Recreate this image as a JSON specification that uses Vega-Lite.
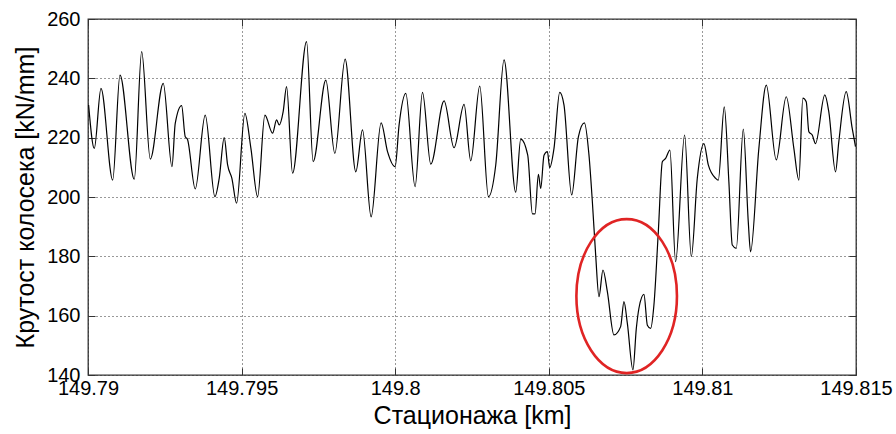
{
  "$schema": "https://vega.github.io/schema/vega-lite/v6.json",
  "width": 768,
  "height": 356,
  "autosize": {"type": "none"},
  "padding": {"left": 88, "top": 19, "right": 40, "bottom": 59},
  "background": "white",
  "config": {
    "font": "Liberation Sans",
    "view": {"stroke": "#333333", "strokeWidth": 1.3},
    "axis": {
      "labelFont": "Liberation Sans",
      "titleFont": "Liberation Sans",
      "labelColor": "#000000",
      "titleColor": "#000000",
      "titleFontWeight": "normal",
      "domain": false,
      "tickColor": "#333333",
      "tickSize": -7,
      "tickWidth": 1
    }
  },
  "datasets": {
    "series": [
      {"s": 149.79002, "k": 231},
      {"s": 149.790205, "k": 216.4},
      {"s": 149.790423, "k": 236.6},
      {"s": 149.790804, "k": 205.7},
      {"s": 149.791041, "k": 241.1},
      {"s": 149.791506, "k": 206},
      {"s": 149.791747, "k": 249},
      {"s": 149.792027, "k": 212.8},
      {"s": 149.79245, "k": 238.3},
      {"s": 149.792733, "k": 210.2},
      {"s": 149.79284, "k": 224.8},
      {"s": 149.793048, "k": 230.8},
      {"s": 149.793165, "k": 220.3},
      {"s": 149.793237, "k": 219.5},
      {"s": 149.793491, "k": 202.7},
      {"s": 149.793816, "k": 227.6},
      {"s": 149.794131, "k": 200.1},
      {"s": 149.794271, "k": 206.3},
      {"s": 149.794434, "k": 220},
      {"s": 149.794545, "k": 210.8},
      {"s": 149.794684, "k": 206.3},
      {"s": 149.794837, "k": 197.9},
      {"s": 149.795107, "k": 228.2},
      {"s": 149.795303, "k": 216.4},
      {"s": 149.795521, "k": 200.1},
      {"s": 149.795758, "k": 227.6},
      {"s": 149.796008, "k": 221.5},
      {"s": 149.796139, "k": 226},
      {"s": 149.796223, "k": 224.3},
      {"s": 149.796353, "k": 228.8},
      {"s": 149.796464, "k": 237.2},
      {"s": 149.796659, "k": 208},
      {"s": 149.797115, "k": 252.4},
      {"s": 149.797329, "k": 211.9},
      {"s": 149.797742, "k": 239.4},
      {"s": 149.798035, "k": 214.7},
      {"s": 149.79837, "k": 246.5},
      {"s": 149.798718, "k": 208.5},
      {"s": 149.798936, "k": 222.6},
      {"s": 149.799216, "k": 193.3},
      {"s": 149.799541, "k": 225},
      {"s": 149.79975, "k": 215.3},
      {"s": 149.799997, "k": 210.2},
      {"s": 149.800127, "k": 224.3},
      {"s": 149.800345, "k": 234.9},
      {"s": 149.800647, "k": 203.5},
      {"s": 149.800888, "k": 235.3},
      {"s": 149.801158, "k": 211.1},
      {"s": 149.801591, "k": 232.4},
      {"s": 149.801916, "k": 216.6},
      {"s": 149.802242, "k": 231.2},
      {"s": 149.802459, "k": 212.2},
      {"s": 149.802752, "k": 237.4},
      {"s": 149.803035, "k": 200.1},
      {"s": 149.803273, "k": 210.8},
      {"s": 149.803543, "k": 246.2},
      {"s": 149.803923, "k": 201.6},
      {"s": 149.804086, "k": 219.5},
      {"s": 149.804314, "k": 214.1},
      {"s": 149.804467, "k": 194.3},
      {"s": 149.804551, "k": 194.3},
      {"s": 149.804662, "k": 207.6},
      {"s": 149.804737, "k": 202.9},
      {"s": 149.804844, "k": 214.1},
      {"s": 149.804955, "k": 215.3},
      {"s": 149.805029, "k": 209.9},
      {"s": 149.805169, "k": 216.4},
      {"s": 149.805355, "k": 235.3},
      {"s": 149.805495, "k": 231},
      {"s": 149.805745, "k": 200.7},
      {"s": 149.805963, "k": 220.3},
      {"s": 149.806158, "k": 225},
      {"s": 149.806308, "k": 214.1},
      {"s": 149.806418, "k": 198.4},
      {"s": 149.806526, "k": 180.4},
      {"s": 149.806633, "k": 166.4},
      {"s": 149.806763, "k": 175.4},
      {"s": 149.806906, "k": 168.1},
      {"s": 149.807121, "k": 153.5},
      {"s": 149.807339, "k": 156.3},
      {"s": 149.807446, "k": 164.7},
      {"s": 149.807557, "k": 157.4},
      {"s": 149.807739, "k": 141.7},
      {"s": 149.807849, "k": 155.7},
      {"s": 149.807934, "k": 162.5},
      {"s": 149.808097, "k": 167.2},
      {"s": 149.808208, "k": 156.8},
      {"s": 149.808315, "k": 155.7},
      {"s": 149.808422, "k": 163.6},
      {"s": 149.808565, "k": 188.3},
      {"s": 149.808696, "k": 211.9},
      {"s": 149.808803, "k": 213},
      {"s": 149.808943, "k": 215.8},
      {"s": 149.809128, "k": 178.2},
      {"s": 149.809421, "k": 220.9},
      {"s": 149.809639, "k": 179.9},
      {"s": 149.809834, "k": 206.3},
      {"s": 149.810049, "k": 218},
      {"s": 149.810192, "k": 210.8},
      {"s": 149.81043, "k": 206.3},
      {"s": 149.810517, "k": 205.7},
      {"s": 149.810712, "k": 230.4},
      {"s": 149.810862, "k": 205.1},
      {"s": 149.810973, "k": 183.8},
      {"s": 149.811103, "k": 182.7},
      {"s": 149.811331, "k": 222.9},
      {"s": 149.811493, "k": 191.7},
      {"s": 149.811568, "k": 181.5},
      {"s": 149.811838, "k": 216.4},
      {"s": 149.812079, "k": 237.7},
      {"s": 149.812404, "k": 212.5},
      {"s": 149.812729, "k": 233.8},
      {"s": 149.812977, "k": 216.4},
      {"s": 149.813139, "k": 205.7},
      {"s": 149.81327, "k": 233.3},
      {"s": 149.81338, "k": 232.1},
      {"s": 149.813465, "k": 222},
      {"s": 149.813575, "k": 220.9},
      {"s": 149.813682, "k": 218},
      {"s": 149.813985, "k": 234.4},
      {"s": 149.814115, "k": 228.7},
      {"s": 149.814333, "k": 208.5},
      {"s": 149.81444, "k": 218.6},
      {"s": 149.814681, "k": 235.5},
      {"s": 149.814877, "k": 223.1},
      {"s": 149.814984, "k": 217}
    ],
    "highlight": [
      {"s": 149.807535, "k": 166.6}
    ]
  },
  "resolve": {"axis": {"x": "independent", "y": "independent"}},
  "layer": [
    {
      "data": {"name": "series"},
      "mark": {"type": "line", "color": "#000000", "strokeWidth": 1.2, "interpolate": "monotone", "clip": true},
      "encoding": {
        "x": {
          "field": "s", "type": "quantitative",
          "scale": {"domain": [149.79, 149.815], "zero": false, "nice": false},
          "axis": {
            "orient": "bottom",
            "title": "Стационажа [km]",
            "values": [149.79, 149.795, 149.8, 149.805, 149.81, 149.815],
            "labelExpr": "'' + datum.value",
            "labelFlush": false,
            "labelFontSize": 20,
            "labelPadding": 10,
            "titleFontSize": 25,
            "titlePadding": 5,
            "grid": true,
            "gridColor": "#333333",
            "gridDash": [1, 3],
            "gridWidth": 1
          }
        },
        "y": {
          "field": "k", "type": "quantitative",
          "scale": {"domain": [140, 260], "zero": false, "nice": false},
          "axis": {
            "orient": "left",
            "title": "Крутост колосека [kN/mm]",
            "values": [140, 160, 180, 200, 220, 240, 260],
            "labelFontSize": 20,
            "labelPadding": 15,
            "titleFontSize": 25,
            "titlePadding": 8,
            "grid": true,
            "gridColor": "#333333",
            "gridDash": [1, 3],
            "gridWidth": 1
          }
        }
      }
    },
    {
      "data": {"name": "highlight"},
      "mark": {
        "type": "point",
        "shape": "M -0.653,0 A 0.653,1 0 1,0 0.653,0 A 0.653,1 0 1,0 -0.653,0 Z",
        "size": 23716,
        "filled": false,
        "stroke": "#e02424",
        "strokeWidth": 2.6,
        "opacity": 1
      },
      "encoding": {
        "x": {
          "field": "s", "type": "quantitative",
          "scale": {"domain": [149.79, 149.815], "zero": false, "nice": false},
          "axis": {
            "orient": "top",
            "title": null,
            "values": [149.79, 149.795, 149.8, 149.805, 149.81, 149.815],
            "labels": false,
            "grid": false
          }
        },
        "y": {
          "field": "k", "type": "quantitative",
          "scale": {"domain": [140, 260], "zero": false, "nice": false},
          "axis": {
            "orient": "right",
            "title": null,
            "values": [140, 160, 180, 200, 220, 240, 260],
            "labels": false,
            "grid": false
          }
        }
      }
    }
  ]
}
